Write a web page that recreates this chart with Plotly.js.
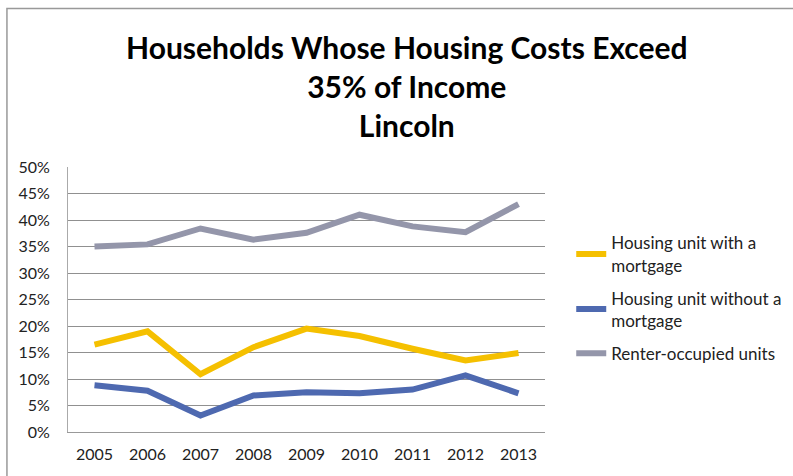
<!DOCTYPE html>
<html><head><meta charset="utf-8">
<script src="https://cdn.plot.ly/plotly-3.0.1.min.js"></script>
<style>html,body{margin:0;padding:0;background:#fff}#chart{width:793px;height:476px}</style>
</head><body><div id="chart"></div>
<script>
const years = ['2005','2006','2007','2008','2009','2010','2011','2012','2013'];
const withMortgage = [0.165, 0.190, 0.109, 0.160, 0.195, 0.181, 0.157, 0.135, 0.149];
const withoutMortgage = [0.088, 0.078, 0.031, 0.069, 0.075, 0.073, 0.080, 0.107, 0.073];
const renter = [0.350, 0.354, 0.384, 0.363, 0.376, 0.410, 0.388, 0.377, 0.430];
const seriesNames = ['Housing unit with a<br>mortgage', 'Housing unit without a<br>mortgage', 'Renter-occupied units'];
const colors = ['#F5C000', '#4E69B0', '#9496AA'];
const yTicks = [0,0.05,0.1,0.15,0.2,0.25,0.3,0.35,0.4,0.45,0.5];
const titleText = '<b>Households Whose Housing Costs Exceed<br>35% of Income<br>Lincoln</b>';

const font = "Lato, 'Open Sans', sans-serif";
const data = [withMortgage, withoutMortgage, renter].map((v,i)=>({
  x: years, y: v, type:'scatter', mode:'lines', name: seriesNames[i], legendgroup:'g'+i,
  line:{color: colors[i], width:6}
}));
const layout = {
  width:793, height:476,
  margin:{l:68, r:248, t:167, b:44, autoexpand:false},
  paper_bgcolor:'#fff', plot_bgcolor:'#fff',
  xaxis:{type:'category', range:[-0.5,8.5], showgrid:false, showline:true, linecolor:'#999', linewidth:1,
    ticks:'', ticklabelstandoff:8, tickfont:{family:font, size:16, color:'#222'}, zeroline:false, automargin:false},
  yaxis:{range:[0,0.5], tickvals:yTicks, tickformat:'.0%', showgrid:true, gridcolor:'#909090', gridwidth:1,
    showline:true, linecolor:'#aaa', ticks:'', ticklabelstandoff:14, automargin:false,
    tickfont:{family:font, size:16, color:'#222'}, zeroline:false},
  legend:{x:1.055, y:0.78, xanchor:'left', yanchor:'top', font:{family:font, size:17, color:'#222'},
    tracegroupgap:8, bgcolor:'rgba(0,0,0,0)'},
  annotations:[{text:titleText, xref:'paper', yref:'paper', x:0.71, y:1.305, xanchor:'center', yanchor:'middle',
    showarrow:false, font:{family:font, size:30, color:'#000'}}],
  shapes:[{type:'rect', xref:'paper', yref:'paper', x0:-0.128, x1:2, y0:-1, y1:1.598,
    line:{color:'#999', width:1.5}, fillcolor:'rgba(0,0,0,0)'}],
  showlegend:true
};
Plotly.newPlot('chart', data, layout, {displayModeBar:false, staticPlot:true});
</script></body></html>
